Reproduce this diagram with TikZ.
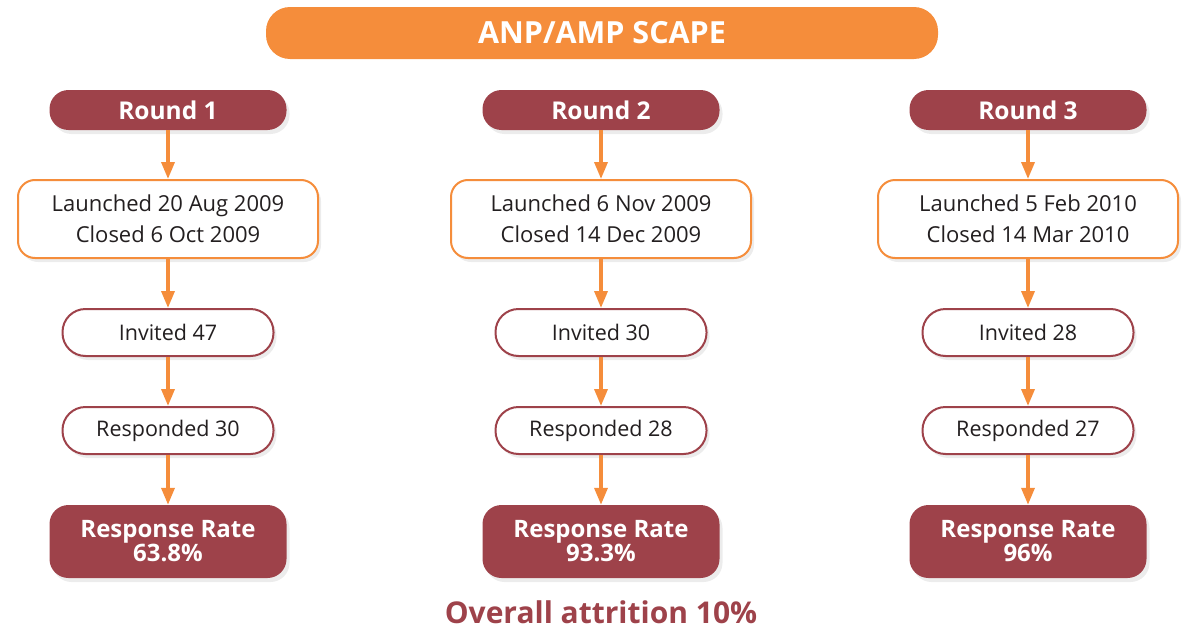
\documentclass[tikz,border=0pt]{standalone}
\usepackage{fontspec}
\setmainfont{Open Sans}
\usetikzlibrary{arrows.meta,shadows}
\definecolor{scapeorange}{HTML}{F58D3B}
\definecolor{scapemaroon}{HTML}{9E424A}
\definecolor{scapetext}{HTML}{231F20}
\tikzset{
  softshadow/.style={drop shadow={shadow xshift=3pt,shadow yshift=-4pt,opacity=0.12,fill=black!60}},
  titlebar/.style={fill=scapeorange,rounded corners=24pt,minimum width=672pt,minimum height=52pt,
    text=white,font=\bfseries\fontsize{30.5}{34}\selectfont,inner sep=0pt},
  roundbox/.style={fill=scapemaroon,rounded corners=19pt,minimum width=237pt,minimum height=40pt,
    text=white,font=\bfseries\fontsize{24.5}{28}\selectfont,inner sep=0pt,softshadow},
  datebox/.style={draw=scapeorange,line width=2pt,fill=white,rounded corners=17pt,minimum width=300pt,
    minimum height=78pt,text=scapetext,font=\fontsize{22}{31}\selectfont,align=center,inner sep=0pt,softshadow},
  countbox/.style={draw=scapemaroon,line width=2pt,fill=white,rounded corners=23pt,minimum width=211pt,
    minimum height=47pt,text=scapetext,font=\fontsize{21.5}{24}\selectfont,inner sep=0pt,softshadow},
  ratebox/.style={fill=scapemaroon,rounded corners=19pt,minimum width=237pt,minimum height=73pt,
    text=white,font=\bfseries\fontsize{24}{25}\selectfont,align=center,inner sep=0pt,softshadow},
  flow/.style={draw=scapeorange,line width=3.5pt,-{Triangle[length=17pt,width=13pt]}},
}
\begin{document}
\begin{tikzpicture}[x=1pt,y=-1pt]
\useasboundingbox (0,0) rectangle (1186,629);
\node[titlebar] (title) at (602,33) {ANP/AMP SCAPE};
\foreach \c/\x/\r/\l/\cl/\inv/\resp/\rate in {
  1/168/Round 1/Launched 20 Aug 2009/Closed 6 Oct 2009/47/30/63.8\%,
  2/601/Round 2/Launched 6 Nov 2009/Closed 14 Dec 2009/30/28/93.3\%,
  3/1028/Round 3/Launched 5 Feb 2010/Closed 14 Mar 2010/28/27/96\%}{
  \node[roundbox] (round\c) at (\x,110) {\r};
  \node[datebox] (dates\c) at (\x,219) {\l\\\cl};
  \node[countbox] (inv\c) at (\x,332.5) {Invited \inv};
  \node[countbox] (resp\c) at (\x,430.5) {Responded \resp};
  \node[ratebox] (rate\c) at (\x,541.5) {Response Rate\\[-1pt]\rate};
  \draw[flow] (round\c) -- (dates\c);
  \draw[flow] (dates\c) -- (inv\c);
  \draw[flow] (inv\c) -- (resp\c);
  \draw[flow] (resp\c) -- (rate\c);
}
\node[text=scapemaroon,font=\bfseries\fontsize{30}{34}\selectfont,inner sep=0pt] (attrition) at (601,612) {Overall attrition 10\%};
\end{tikzpicture}
\end{document}
